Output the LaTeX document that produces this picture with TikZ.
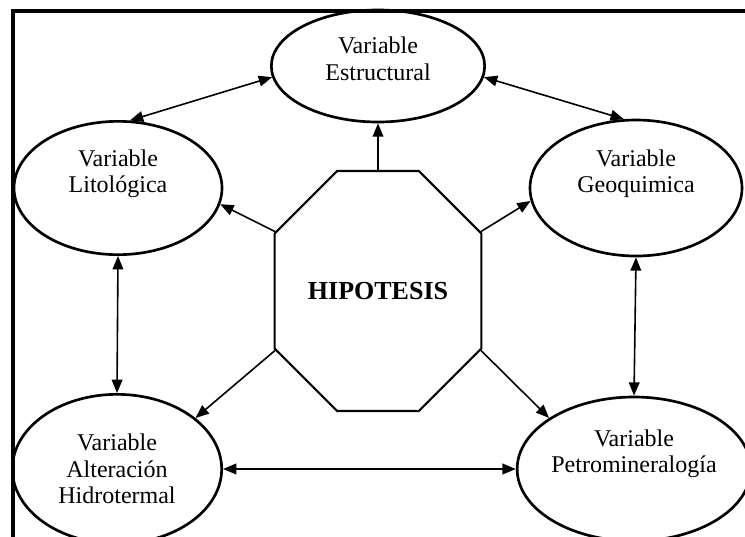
\documentclass[tikz,border=0pt]{standalone}
\usepackage{fontspec}
\setmainfont{Liberation Serif}
\usetikzlibrary{arrows.meta,shapes.geometric,shapes.misc}

\begin{document}
\begin{tikzpicture}[x=0.75pt, y=-0.75pt, >={Triangle[length=10pt,width=8pt]},
    var/.style={ellipse, draw, line width=2pt, align=center, inner sep=0pt,
        font=\fontsize{18}{20}\selectfont},
    flecha/.style={->, line width=1.2pt},
    doble/.style={<->, line width=1.2pt}]
    % marco
    \useasboundingbox (0,0) rectangle (745,536);
    \draw[line width=2.4pt] (13,545) |- (755,11);

    % hipotesis (octagono)
    \node[chamfered rectangle, draw, line width=1.6pt, minimum width=155pt,
        minimum height=180pt, chamfered rectangle sep=37pt,
        font=\fontsize{19.5}{21}\selectfont\bfseries] (H) at (378,291) {HIPOTESIS};

    % variables
    \node[var, minimum width=160pt, minimum height=84pt, text depth=11pt] (E) at (378,66) {Variable\\Estructural};
    \node[var, minimum width=156pt, minimum height=100pt, text depth=25pt] (L) at (118,188) {Variable\\Litológica};
    \node[var, minimum width=159pt, minimum height=102pt, text depth=25pt] (G) at (636,188) {Variable\\Geoquimica};
    \node[var, minimum width=157pt, minimum height=112pt] (A) at (117,469) {Variable\\Alteración\\Hidrotermal};
    \node[var, minimum width=159pt, minimum height=108pt, text depth=27pt] (P) at (634,469) {Variable\\Petromineralogía};

    % flechas desde la hipotesis
    \draw[flecha] (H.north) -- (E.south);
    \draw[flecha] (H.150) -- (L.-9);
    \draw[flecha] (H.30) -- (G.187);
    \draw[flecha] (H.210) -- (A.33);
    \draw[flecha] (H.330) -- (P.149);

    % relaciones entre variables
    \draw[doble] (L.80) -- (E.186);
    \draw[doble] (E.-6) -- (G.100);
    \draw[doble] (L.south) -- (A.north);
    \draw[doble] (G.south) -- (P.north);
    \draw[doble] (A.east) -- (P.west);
\end{tikzpicture}
\end{document}
